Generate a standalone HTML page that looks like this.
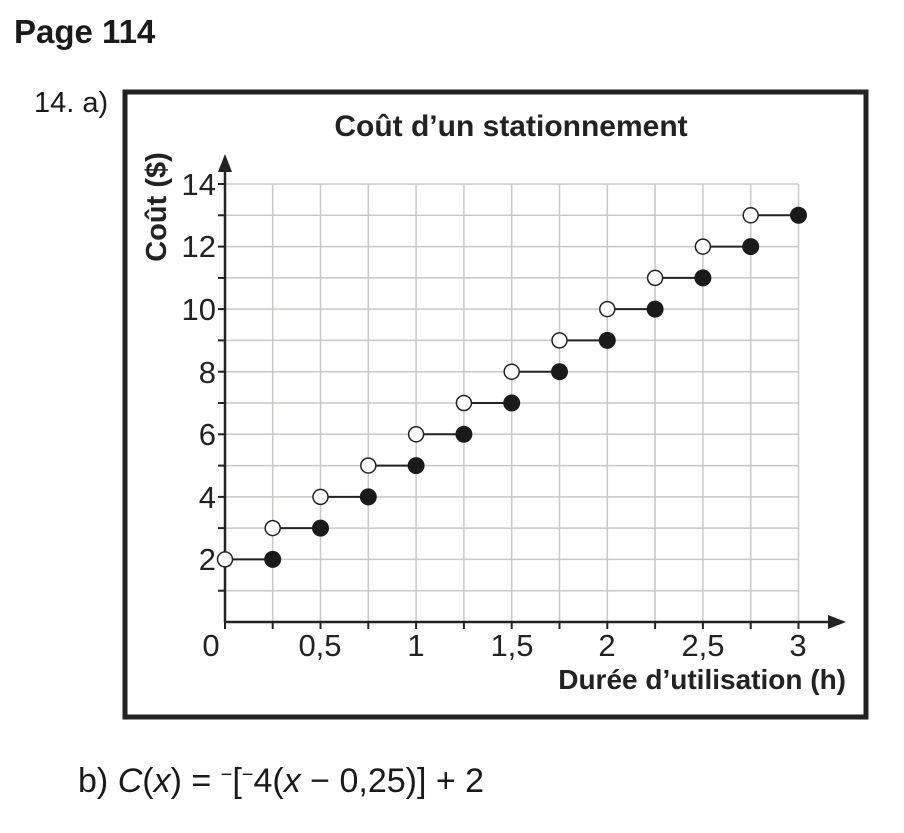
<!DOCTYPE html>
<html><head><style>body{margin:0;background:#fff}</style></head><body>
<svg width="904" height="828" xmlns="http://www.w3.org/2000/svg" font-family="Liberation Sans, sans-serif">
<text x="14" y="43" font-size="33" font-weight="bold" fill="#1a1a1a">Page 114</text>
<text x="34" y="112" font-size="29" fill="#1a1a1a">14.  a)</text>
<rect x="125" y="92" width="741" height="625" fill="#fff" stroke="#222" stroke-width="5"/>
<text x="511" y="136" font-size="30" font-weight="bold" text-anchor="middle" fill="#222">Coût d’un stationnement</text>
<g stroke="#c8c8cc" stroke-width="1.5">
<line x1="272.7" y1="184" x2="272.7" y2="622"/><line x1="320.5" y1="184" x2="320.5" y2="622"/><line x1="368.3" y1="184" x2="368.3" y2="622"/><line x1="416.1" y1="184" x2="416.1" y2="622"/><line x1="463.9" y1="184" x2="463.9" y2="622"/><line x1="511.7" y1="184" x2="511.7" y2="622"/><line x1="559.5" y1="184" x2="559.5" y2="622"/><line x1="607.3" y1="184" x2="607.3" y2="622"/><line x1="655.1" y1="184" x2="655.1" y2="622"/><line x1="702.9" y1="184" x2="702.9" y2="622"/><line x1="750.7" y1="184" x2="750.7" y2="622"/><line x1="798.5" y1="184" x2="798.5" y2="622"/>
<line x1="225" y1="184" x2="798" y2="184"/><line x1="225" y1="215.3" x2="798" y2="215.3"/><line x1="225" y1="246.6" x2="798" y2="246.6"/><line x1="225" y1="277.9" x2="798" y2="277.9"/><line x1="225" y1="309.1" x2="798" y2="309.1"/><line x1="225" y1="340.4" x2="798" y2="340.4"/><line x1="225" y1="371.7" x2="798" y2="371.7"/><line x1="225" y1="403" x2="798" y2="403"/><line x1="225" y1="434.3" x2="798" y2="434.3"/><line x1="225" y1="465.6" x2="798" y2="465.6"/><line x1="225" y1="496.9" x2="798" y2="496.9"/><line x1="225" y1="528.1" x2="798" y2="528.1"/><line x1="225" y1="559.4" x2="798" y2="559.4"/><line x1="225" y1="590.7" x2="798" y2="590.7"/>
</g>
<g stroke="#222" stroke-width="2.5">
<line x1="225" y1="622" x2="832" y2="622"/><line x1="225" y1="622" x2="225" y2="168"/>
</g>
<polygon points="225,154 218,172 232,172" fill="#222"/>
<polygon points="846,622 828,615 828,629" fill="#222"/>
<g stroke="#222" stroke-width="2">
<line x1="218" y1="184" x2="225" y2="184"/><line x1="218" y1="215.3" x2="225" y2="215.3"/><line x1="218" y1="246.6" x2="225" y2="246.6"/><line x1="218" y1="277.9" x2="225" y2="277.9"/><line x1="218" y1="309.1" x2="225" y2="309.1"/><line x1="218" y1="340.4" x2="225" y2="340.4"/><line x1="218" y1="371.7" x2="225" y2="371.7"/><line x1="218" y1="403" x2="225" y2="403"/><line x1="218" y1="434.3" x2="225" y2="434.3"/><line x1="218" y1="465.6" x2="225" y2="465.6"/><line x1="218" y1="496.9" x2="225" y2="496.9"/><line x1="218" y1="528.1" x2="225" y2="528.1"/><line x1="218" y1="559.4" x2="225" y2="559.4"/><line x1="218" y1="590.7" x2="225" y2="590.7"/>
<line x1="225" y1="622" x2="225" y2="629"/><line x1="272.7" y1="622" x2="272.7" y2="629"/><line x1="320.5" y1="622" x2="320.5" y2="629"/><line x1="368.3" y1="622" x2="368.3" y2="629"/><line x1="416.1" y1="622" x2="416.1" y2="629"/><line x1="463.9" y1="622" x2="463.9" y2="629"/><line x1="511.7" y1="622" x2="511.7" y2="629"/><line x1="559.5" y1="622" x2="559.5" y2="629"/><line x1="607.3" y1="622" x2="607.3" y2="629"/><line x1="655.1" y1="622" x2="655.1" y2="629"/><line x1="702.9" y1="622" x2="702.9" y2="629"/><line x1="750.7" y1="622" x2="750.7" y2="629"/><line x1="798.5" y1="622" x2="798.5" y2="629"/>
</g>
<g font-size="31" fill="#222" text-anchor="end">
<text x="216" y="195">14</text><text x="216" y="257">12</text><text x="216" y="320">10</text><text x="216" y="383">8</text><text x="216" y="445">6</text><text x="216" y="508">4</text><text x="216" y="570">2</text>
</g>
<g font-size="31" fill="#222" text-anchor="middle">
<text x="211" y="656">0</text><text x="320" y="656">0,5</text><text x="416" y="656">1</text><text x="512" y="656">1,5</text><text x="607" y="656">2</text><text x="703" y="656">2,5</text><text x="798" y="656">3</text>
</g>
<text x="846" y="689" font-size="28" font-weight="bold" text-anchor="end" fill="#222">Durée d’utilisation (h)</text>
<text transform="translate(166,207) rotate(-90)" font-size="29" font-weight="bold" text-anchor="middle" fill="#222">Coût ($)</text>
<g stroke="#222" stroke-width="2">
<line x1="225" y1="559.4" x2="272.7" y2="559.4"/><line x1="272.7" y1="528.1" x2="320.5" y2="528.1"/><line x1="320.5" y1="496.9" x2="368.3" y2="496.9"/><line x1="368.3" y1="465.6" x2="416.1" y2="465.6"/><line x1="416.1" y1="434.3" x2="463.9" y2="434.3"/><line x1="463.9" y1="403" x2="511.7" y2="403"/><line x1="511.7" y1="371.7" x2="559.5" y2="371.7"/><line x1="559.5" y1="340.4" x2="607.3" y2="340.4"/><line x1="607.3" y1="309.1" x2="655.1" y2="309.1"/><line x1="655.1" y1="277.9" x2="702.9" y2="277.9"/><line x1="702.9" y1="246.6" x2="750.7" y2="246.6"/><line x1="750.7" y1="215.3" x2="798.5" y2="215.3"/>
</g>
<g stroke="#222" stroke-width="1.5" fill="#fff">
<circle cx="225" cy="559.4" r="7.5"/><circle cx="272.7" cy="528.1" r="7.5"/><circle cx="320.5" cy="496.9" r="7.5"/><circle cx="368.3" cy="465.6" r="7.5"/><circle cx="416.1" cy="434.3" r="7.5"/><circle cx="463.9" cy="403" r="7.5"/><circle cx="511.7" cy="371.7" r="7.5"/><circle cx="559.5" cy="340.4" r="7.5"/><circle cx="607.3" cy="309.1" r="7.5"/><circle cx="655.1" cy="277.9" r="7.5"/><circle cx="702.9" cy="246.6" r="7.5"/><circle cx="750.7" cy="215.3" r="7.5"/>
</g>
<g fill="#1a1a1a">
<circle cx="272.7" cy="559.4" r="8.5"/><circle cx="320.5" cy="528.1" r="8.5"/><circle cx="368.3" cy="496.9" r="8.5"/><circle cx="416.1" cy="465.6" r="8.5"/><circle cx="463.9" cy="434.3" r="8.5"/><circle cx="511.7" cy="403" r="8.5"/><circle cx="559.5" cy="371.7" r="8.5"/><circle cx="607.3" cy="340.4" r="8.5"/><circle cx="655.1" cy="309.1" r="8.5"/><circle cx="702.9" cy="277.9" r="8.5"/><circle cx="750.7" cy="246.6" r="8.5"/><circle cx="798.5" cy="215.3" r="8.5"/>
</g>
<text x="78" y="792" font-size="34" fill="#1a1a1a">b)  <tspan font-style="italic">C</tspan>(<tspan font-style="italic">x</tspan>) = <tspan baseline-shift="super" font-size="20">−</tspan>[<tspan baseline-shift="super" font-size="20">−</tspan>4(<tspan font-style="italic">x</tspan> − 0,25)] + 2</text>
</svg>
</body></html>
